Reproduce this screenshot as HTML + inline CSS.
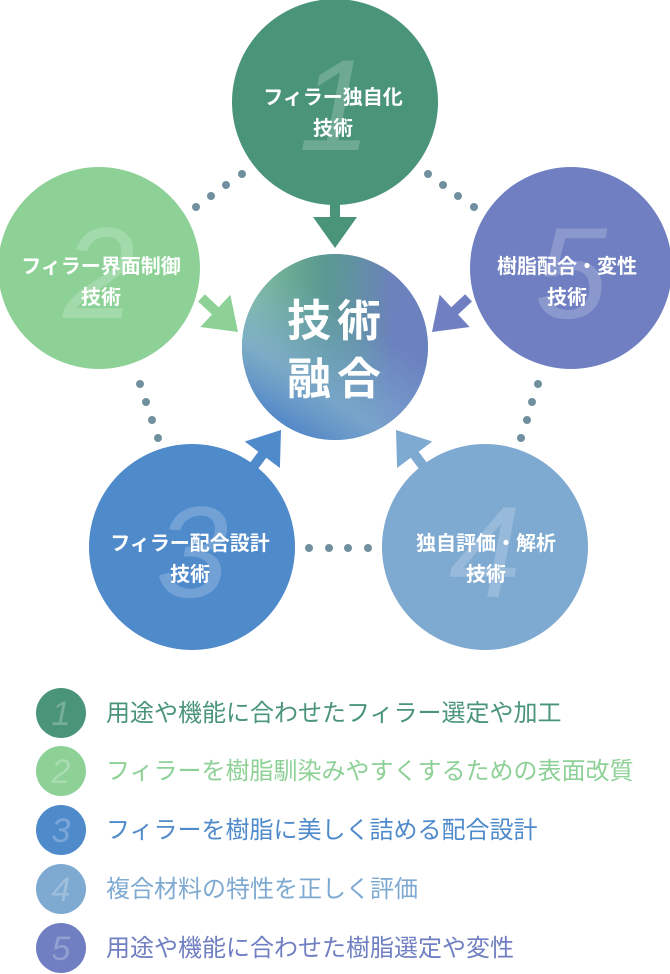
<!DOCTYPE html>
<html><head><meta charset="utf-8"><style>
html,body{margin:0;padding:0;background:#fff;}
svg{display:block;}
text{font-family:"Liberation Sans","Noto Sans CJK JP",sans-serif;}
</style></head><body>
<svg width="670" height="974" viewBox="0 0 670 974" xmlns="http://www.w3.org/2000/svg">
<defs>
<radialGradient id="g" cx="0.5" cy="0.5" r="0.6">
<stop offset="0" stop-color="#5fa6a0"/>
<stop offset="1" stop-color="#6a8fc0"/>
</radialGradient>
<linearGradient id="g1" x1="0" y1="0" x2="1" y2="1">
<stop offset="0.1" stop-color="#4a9479"/>
<stop offset="0.5" stop-color="#5a8aa8"/>
<stop offset="1" stop-color="#4f8acb"/>
</linearGradient>
<linearGradient id="g2" x1="0" y1="0" x2="1" y2="0">
<stop offset="0.05" stop-color="#8dd197"/>
<stop offset="0.45" stop-color="#5fa08c" stop-opacity="0.6"/>
<stop offset="0.8" stop-color="#6f7fc1"/>
</linearGradient>
<linearGradient id="g3" x1="0.3" y1="1" x2="0.7" y2="0.4">
<stop offset="0" stop-color="#4f84c8"/>
<stop offset="0.4" stop-color="#7ea9d1" stop-opacity="0.8"/>
<stop offset="1" stop-color="#7ea9d1" stop-opacity="0"/>
</linearGradient>
<g id="arr"><rect x="-5" y="-50" width="10" height="22" /><polygon points="-22,-31 22,-31 0,0"/></g>
</defs>

<g fill="#7090a0">
<circle cx="242" cy="174" r="4"/><circle cx="226" cy="185" r="4"/><circle cx="211" cy="196" r="4"/><circle cx="196" cy="207" r="4"/>
<circle cx="428" cy="174" r="4"/><circle cx="443" cy="185" r="4"/><circle cx="458" cy="196" r="4"/><circle cx="474" cy="207" r="4"/>
<circle cx="140" cy="384" r="4"/><circle cx="146" cy="402" r="4"/><circle cx="152" cy="420" r="4"/><circle cx="158" cy="438" r="4"/>
<circle cx="538" cy="384" r="4"/><circle cx="532" cy="402" r="4"/><circle cx="527" cy="420" r="4"/><circle cx="521" cy="438" r="4"/>
<circle cx="309" cy="548" r="4"/><circle cx="329" cy="548" r="4"/><circle cx="348" cy="548" r="4"/><circle cx="368" cy="548" r="4"/>
</g>

<use href="#arr" fill="#4a9479" transform="translate(335,248)"/>
<use href="#arr" fill="#8dd197" transform="translate(238,332) rotate(-47)"/>
<use href="#arr" fill="#6f7fc1" transform="translate(432,332) rotate(47)"/>
<use href="#arr" fill="#4f8acb" transform="translate(281,430) rotate(-143)"/>
<use href="#arr" fill="#7ea9d1" transform="translate(396,430) rotate(143)"/>

<circle cx="335" cy="102" r="103" fill="#4a9479"/>
<circle cx="99" cy="268" r="101" fill="#8dd197"/>
<circle cx="571" cy="268" r="101" fill="#6f7fc1"/>
<circle cx="192" cy="547" r="103" fill="#4f8acb"/>
<circle cx="485" cy="547" r="103" fill="#7ea9d1"/>

<circle cx="335" cy="347" r="93" fill="url(#g)"/>
<circle cx="335" cy="347" r="93" fill="url(#g1)" opacity="0.7"/>
<circle cx="335" cy="347" r="93" fill="url(#g2)" opacity="0.8"/>
<circle cx="335" cy="347" r="93" fill="url(#g3)"/>

<g fill="#fff" fill-opacity="0.2" font-size="130" font-style="italic" text-anchor="middle">
<text x="335" y="150">1</text>
<text x="99" y="318">2</text>
<text x="571" y="318">5</text>
<text x="192" y="597">3</text>
<text x="485" y="597">4</text>
</g>

<g fill="#fff" font-size="20" font-weight="bold" text-anchor="middle">
<text x="333" y="104">フィラー独自化</text><text x="333" y="135">技術</text>
<text x="101" y="273">フィラー界面制御</text><text x="101" y="304">技術</text>
<text x="567" y="273">樹脂配合・変性</text><text x="567" y="304">技術</text>
<text x="190" y="550">フィラー配合設計</text><text x="190" y="581">技術</text>
<text x="486" y="550">独自評価・解析</text><text x="486" y="581">技術</text>
</g>
<g fill="#fff" font-size="44" font-weight="bold" text-anchor="middle" letter-spacing="6">
<text x="337" y="336">技術</text>
<text x="337" y="394">融合</text>
</g>

<g>
<circle cx="61" cy="713" r="25" fill="#4a9479"/>
<circle cx="61" cy="771" r="25" fill="#8dd197"/>
<circle cx="61" cy="830" r="25" fill="#4f8acb"/>
<circle cx="61" cy="889" r="25" fill="#7ea9d1"/>
<circle cx="61" cy="948" r="25" fill="#6f7fc1"/>
</g>
<g fill="#fff" fill-opacity="0.25" font-size="34" font-style="italic" text-anchor="middle">
<text x="61" y="725">1</text><text x="61" y="783">2</text><text x="61" y="842">3</text><text x="61" y="901">4</text><text x="61" y="960">5</text>
</g>
<g font-size="24">
<text x="106" y="721" fill="#4a9479">用途や機能に合わせたフィラー選定や加工</text>
<text x="106" y="779" fill="#8dd197">フィラーを樹脂馴染みやすくするための表面改質</text>
<text x="106" y="838" fill="#4f8acb">フィラーを樹脂に美しく詰める配合設計</text>
<text x="106" y="897" fill="#7ea9d1">複合材料の特性を正しく評価</text>
<text x="106" y="956" fill="#6f7fc1">用途や機能に合わせた樹脂選定や変性</text>
</g>
</svg>
</body></html>
